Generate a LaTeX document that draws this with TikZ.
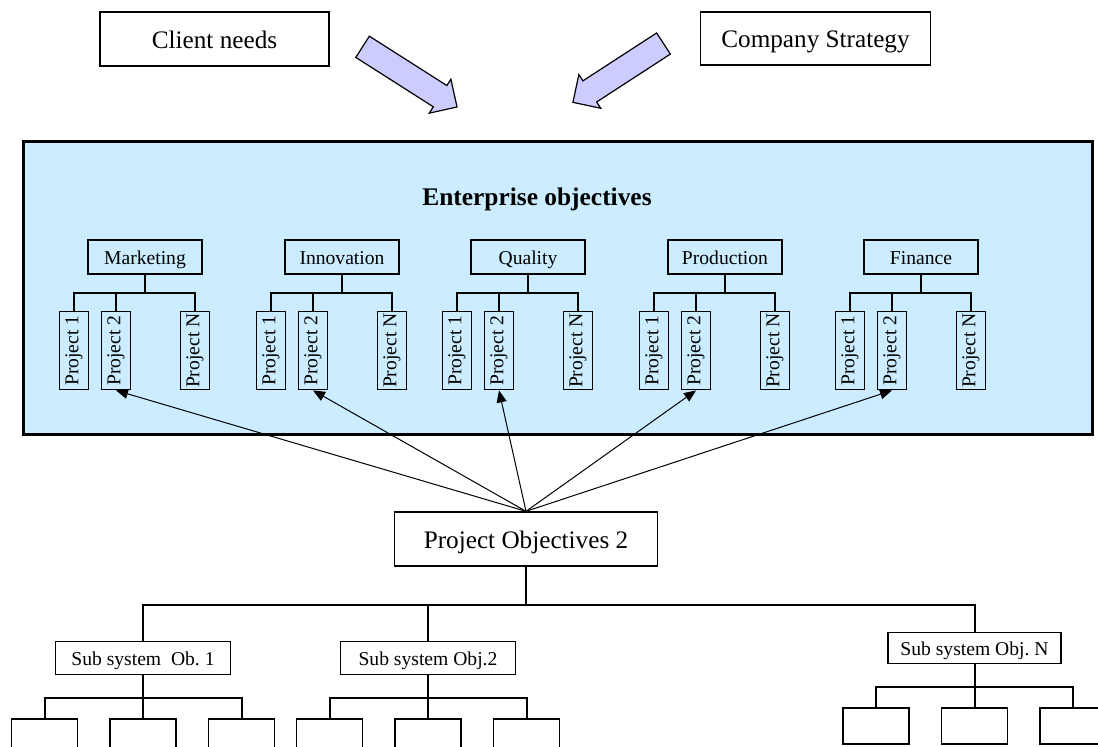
\documentclass[tikz,border=0pt]{standalone}
\usepackage{fontspec}
\setmainfont{Liberation Serif}
\usepackage{graphicx}
\usetikzlibrary{arrows.meta,positioning,shapes.arrows}

\definecolor{entblue}{RGB}{204,236,255}
\definecolor{arrowblue}{RGB}{204,204,255}

\tikzset{
  bigbox/.style={draw, line width=0.7pt, inner sep=0pt, text height=9.3pt, text depth=0pt, font=\fontsize{12.6}{15}\selectfont},
  catbox/.style={draw, line width=0.8pt, minimum width=57pt, minimum height=17pt, inner sep=0pt, text height=7.2pt, text depth=0pt, font=\fontsize{9.8}{12}\selectfont},
  projbox/.style={draw, line width=0.8pt, minimum width=14.5pt, minimum height=39pt, inner sep=0pt, font=\fontsize{9.8}{12}\selectfont},
  subbox/.style={draw, line width=0.8pt, minimum width=87.5pt, minimum height=16.5pt, inner sep=0pt, text height=7.8pt, text depth=0pt, font=\fontsize{9.8}{12}\selectfont},
  leafbox/.style={draw, line width=0.8pt, minimum width=33pt, minimum height=18pt},
  treeline/.style={line width=1pt},
  bigarrow/.style={single arrow, draw, fill=arrowblue, line width=0.6pt, inner xsep=0pt, inner ysep=6pt, single arrow head extend=3.75pt},
}

\begin{document}
\frenchspacing
\begin{tikzpicture}[x=0.5pt, y=-0.5pt, >={Triangle[length=6pt,width=5pt]}]
  \useasboundingbox (0,0) rectangle (1098,746);
  \clip (0,0) rectangle (1098,746);

  \node[bigbox, minimum width=114.5pt, minimum height=27pt] (client) at (214.5,39) {Client needs};
  \node[bigbox, minimum width=115pt, minimum height=26.5pt] (company) at (815.5,38.5) {Company Strategy};
  \node[bigarrow, minimum height=56pt, rotate=-32.5] (arrL) at (404.5,73.5) {};
  \node[bigarrow, minimum height=54pt, rotate=-147] (arrR) at (623.5,69.5) {};

  \node[draw, fill=entblue, line width=1.5pt, minimum width=534.5pt, minimum height=146.5pt] (ent) at (557.5,287.5) {};
  \node[font=\fontsize{12.7}{15}\bfseries] (enttitle) at (537,199) {Enterprise objectives};

  \node[bigbox, minimum width=131.5pt, minimum height=27pt] (pobj) at (526,539) {Project Objectives 2};

  \foreach \name/\txt/\cx in {mkt/Marketing/145, inn/Innovation/342, qua/Quality/528, pro/Production/725, fin/Finance/921} {
    \node[catbox] (\name) at (\cx,257) {\txt};
    \node[projbox, below=18pt of \name, xshift=-35.5pt] (\name-1) {\rotatebox{90}{Project 1}};
    \node[projbox, below=18pt of \name, xshift=-14.5pt] (\name-2) {\rotatebox{90}{Project 2}};
    \node[projbox, below=18pt of \name, xshift=25pt] (\name-n) {\rotatebox{90}{Project N}};
    \draw[treeline] (\name.south) -- ++(0,18);
    \draw[treeline] (\name-1.north) -- ++(0,-18) -| (\name-n.north);
    \draw[treeline] (\name-2.north) -- ++(0,-18);
    \draw[->, line width=0.5pt] (pobj.north) -- (\name-2.south);
  }

  \node[subbox] (sub1) at (143,658) {Sub system\ \ Ob. 1};
  \node[subbox] (sub2) at (428,658) {Sub system Obj.2};
  \node[subbox, minimum width=86.5pt, minimum height=15.5pt] (subn) at (974.5,648) {Sub system Obj. N};
  \draw[treeline] (pobj.south) -- ++(0,38) coordinate (pbar);
  \draw[treeline] (sub1.north) -- (sub1.north |- pbar) -- (subn.north |- pbar) -- (subn.north);
  \draw[treeline] (sub2.north) -- (sub2.north |- pbar);
  \foreach \s in {sub1,sub2,subn} {
    \node[leafbox, below=21.5pt of \s, xshift=-49.25pt] (\s-a) {};
    \node[leafbox, below=21.5pt of \s] (\s-b) {};
    \node[leafbox, below=21.5pt of \s, xshift=49.25pt] (\s-c) {};
    \draw[treeline] (\s.south) -- (\s-b.north);
    \draw[treeline] (\s-a.north) -- ++(0,-20) -| (\s-c.north);
  }
\end{tikzpicture}
\end{document}
